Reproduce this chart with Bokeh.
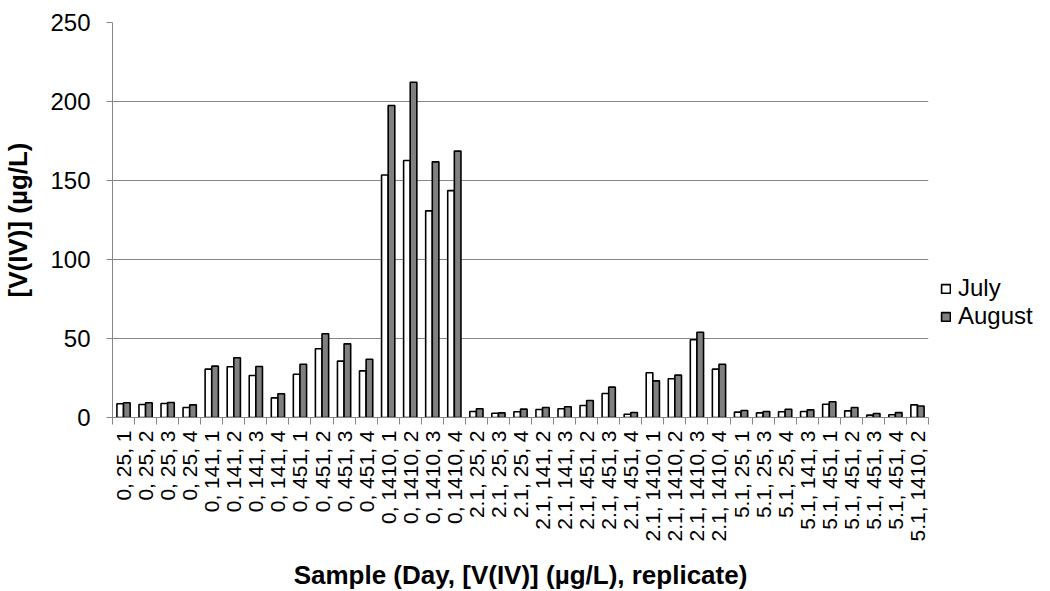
import math
from bokeh.plotting import figure
from bokeh.models import (ColumnDataSource, Range1d, FixedTicker, Legend, LegendItem)
from bokeh.embed import file_html
from bokeh.resources import INLINE

labels = [
    "0, 25, 1", "0, 25, 2", "0, 25, 3", "0, 25, 4",
    "0, 141, 1", "0, 141, 2", "0, 141, 3", "0, 141, 4",
    "0, 451, 1", "0, 451, 2", "0, 451, 3", "0, 451, 4",
    "0, 1410, 1", "0, 1410, 2", "0, 1410, 3", "0, 1410, 4",
    "2.1, 25, 2", "2.1, 25, 3", "2.1, 25, 4",
    "2.1, 141, 2", "2.1, 141, 3",
    "2.1, 451, 2", "2.1, 451, 3", "2.1, 451, 4",
    "2.1, 1410, 1", "2.1, 1410, 2", "2.1, 1410, 3", "2.1, 1410, 4",
    "5.1, 25, 1", "5.1, 25, 3", "5.1, 25, 4",
    "5.1, 141, 3",
    "5.1, 451, 1", "5.1, 451, 2", "5.1, 451, 3", "5.1, 451, 4",
    "5.1, 1410, 2",
]
july = [8.7, 8.2, 8.9, 6.3,
        30.6, 32.1, 26.6, 12.4,
        27.4, 43.5, 35.7, 29.5,
        153.5, 162.7, 130.8, 143.6,
        3.8, 2.7, 3.6,
        5.1, 5.5,
        7.6, 15.2, 2.1,
        28.3, 24.5, 49.2, 30.6,
        3.4, 2.9, 3.6,
        3.8,
        8.4, 4.2, 1.5, 1.7,
        8.0]
august = [9.3, 9.3, 9.5, 8.0,
          32.5, 37.8, 32.3, 15.0,
          33.7, 53.0, 46.6, 36.9,
          197.5, 212.2, 161.8, 168.6,
          5.5, 2.9, 5.3,
          6.3, 6.8,
          10.8, 19.2, 3.2,
          23.2, 26.8, 54.0, 33.7,
          4.4, 3.8, 5.2,
          4.8,
          10.0, 6.3, 2.5, 3.1,
          7.3]
series_names = ["July", "August"]
y_ticks = [0, 50, 100, 150, 200, 250]

n = len(labels)
centers = [i + 0.5 for i in range(n)]
bw = 0.3
src = ColumnDataSource(dict(
    xj=[c - bw / 2 for c in centers],
    xa=[c + bw / 2 for c in centers],
    july=july, august=august,
))

FONT = "Liberation Sans"
GRID = "#868686"

p = figure(frame_width=816, frame_height=395, output_backend="svg",
           toolbar_location=None, x_range=Range1d(0, n), y_range=Range1d(0, 250),
           min_border_left=109, min_border_top=22, min_border_right=100,
           min_border_bottom=100)
p.outline_line_color = None
p.background_fill_color = "white"

rj = p.vbar(x="xj", top="july", width=bw, bottom=0, source=src,
            fill_color="white", line_color="black", line_width=1.6)
ra = p.vbar(x="xa", top="august", width=bw, bottom=0, source=src,
            fill_color="#808080", line_color="black", line_width=1.6)

# x axis
xa = p.xaxis[0]
xa.ticker = FixedTicker(ticks=centers, minor_ticks=list(range(n + 1)))
xa.major_label_overrides = {c: lab for c, lab in zip(centers, labels)}
xa.major_label_orientation = math.pi / 2
xa.major_tick_out = 0
xa.major_tick_in = 0
xa.minor_tick_out = 7
xa.minor_tick_in = 0
xa.minor_tick_line_color = GRID
xa.axis_line_color = GRID
xa.major_label_text_font = FONT
xa.major_label_text_font_size = "21px"
xa.major_label_text_color = "black"
xa.major_label_standoff = 6
xa.axis_label = "Sample (Day, [V(IV)] (µg/L), replicate)"
xa.axis_label_text_font = FONT
xa.axis_label_text_font_size = "26px"
xa.axis_label_text_font_style = "bold"
xa.axis_label_text_color = "black"
xa.axis_label_standoff = 16

# y axis
ya = p.yaxis[0]
ya.ticker = FixedTicker(ticks=y_ticks)
ya.major_tick_out = 6
ya.major_tick_in = 0
ya.minor_tick_out = 0
ya.minor_tick_in = 0
ya.major_tick_line_color = GRID
ya.axis_line_color = GRID
ya.major_label_text_font = FONT
ya.major_label_text_font_size = "24px"
ya.major_label_text_color = "black"
ya.major_label_standoff = 16
ya.axis_label = "[V(IV)] (µg/L)"
ya.axis_label_text_font = FONT
ya.axis_label_text_font_size = "26px"
ya.axis_label_text_font_style = "bold"
ya.axis_label_text_color = "black"
ya.axis_label_standoff = 14

p.xgrid.visible = False
p.ygrid.grid_line_color = GRID
p.ygrid.grid_line_width = 1.2
p.ygrid.ticker = FixedTicker(ticks=y_ticks)

legend = Legend(items=[LegendItem(label=series_names[0], renderers=[rj]),
                       LegendItem(label=series_names[1], renderers=[ra])],
                location=(12, 87), border_line_color=None,
                background_fill_alpha=0,
                label_text_font=FONT, label_text_font_size="24px",
                label_text_color="black",
                glyph_width=11, glyph_height=11, label_standoff=7,
                padding=0, margin=0, spacing=-6, label_height=20)
p.add_layout(legend, "right")

open("out.html", "w").write(file_html(p, INLINE))
